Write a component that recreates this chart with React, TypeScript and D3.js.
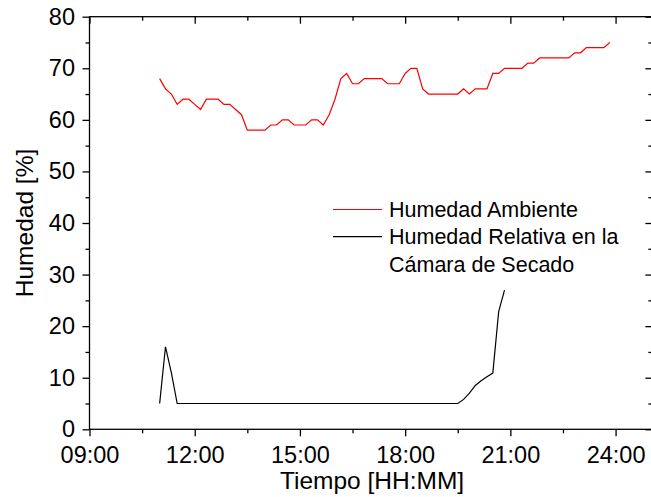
import React, { useEffect, useRef } from 'react';
import * as d3 from 'd3';

// readings every 10 min starting at 11:00
const startTime = '11:00';
const stepMinutes = 10;

const ambiente = [
  68, 66, 65, 63, 64, 64, 63, 62, 64, 64, 64, 63, 63, 62, 61, 58, 58, 58, 58, 59,
  59, 60, 60, 59, 59, 59, 60, 60, 59, 61, 64, 68, 69, 67, 67, 68, 68, 68, 68, 67,
  67, 67, 69, 70, 70, 66, 65, 65, 65, 65, 65, 65, 66, 65, 66, 66, 66, 69, 69, 70,
  70, 70, 70, 71, 71, 72, 72, 72, 72, 72, 72, 73, 73, 74, 74, 74, 74, 75,
];

const camara = [
  5, 16, 11, 5, 5, 5, 5, 5, 5, 5, 5, 5, 5, 5, 5, 5, 5, 5, 5, 5,
  5, 5, 5, 5, 5, 5, 5, 5, 5, 5, 5, 5, 5, 5, 5, 5, 5, 5, 5, 5,
  5, 5, 5, 5, 5, 5, 5, 5, 5, 5, 5, 5, 5.8, 7, 8.5, 9.4, 10.2, 10.9, 22.8, 27,
];

const xTickLabels = ['09:00', '12:00', '15:00', '18:00', '21:00', '24:00'];
const yTicks = [0, 10, 20, 30, 40, 50, 60, 70, 80];
const legendLabels = ['Humedad Ambiente', 'Humedad Relativa en la', 'Cámara de Secado'];

const toHours = (s: string) => {
  const [h, m] = s.split(':').map(Number);
  return h + m / 60;
};

export default function App() {
  const ref = useRef<SVGSVGElement>(null);

  useEffect(() => {
    const svg = d3.select(ref.current);
    svg.selectAll('*').remove();

    const left = 89.5;
    const right = 652.4;
    const top = 16.7;
    const bottom = 429.3;
    const font = 'Liberation Sans, Arial, sans-serif';

    const x = d3.scaleLinear().domain([9, 25.05]).range([left, right]);
    const y = d3.scaleLinear().domain([0, 80]).range([bottom, top]);

    const t0 = toHours(startTime);
    const hour = (i: number) => t0 + (i * stepMinutes) / 60;

    const majorX = xTickLabels.map(toHours);
    const minorX = majorX.map((d) => d + 1.5).filter((d) => d < 25.05);
    const minorY = yTicks.slice(0, -1).map((d) => d + 5);

    const styleAxis = (g: any) => {
      g.select('.domain').remove();
      g.selectAll('line').attr('stroke', '#000').attr('stroke-width', 1.3);
      g.selectAll('text')
        .attr('fill', '#000')
        .style('font-family', font)
        .style('font-size', '23.5px');
    };

    // frame
    svg
      .append('rect')
      .attr('x', left)
      .attr('y', top)
      .attr('width', right - left)
      .attr('height', bottom - top)
      .attr('fill', 'none')
      .attr('stroke', '#000')
      .attr('stroke-width', 1.3);

    // bottom axis
    svg
      .append('g')
      .attr('transform', `translate(0,${bottom})`)
      .call(
        d3
          .axisBottom(x)
          .tickValues(majorX)
          .tickFormat((d, i) => xTickLabels[i])
          .tickSize(7)
          .tickPadding(10.5),
      )
      .call(styleAxis);
    svg
      .append('g')
      .attr('transform', `translate(0,${bottom})`)
      .call(d3.axisBottom(x).tickValues(minorX).tickFormat(() => '').tickSize(4))
      .call(styleAxis);

    // top axis, ticks inward
    svg
      .append('g')
      .attr('transform', `translate(0,${top})`)
      .call(d3.axisBottom(x).tickValues(majorX).tickFormat(() => '').tickSize(7))
      .call(styleAxis);
    svg
      .append('g')
      .attr('transform', `translate(0,${top})`)
      .call(d3.axisBottom(x).tickValues(minorX).tickFormat(() => '').tickSize(4))
      .call(styleAxis);

    // left axis
    svg
      .append('g')
      .attr('transform', `translate(${left},0)`)
      .call(d3.axisLeft(y).tickValues(yTicks).tickSize(7).tickPadding(7.5))
      .call(styleAxis);
    svg
      .append('g')
      .attr('transform', `translate(${left},0)`)
      .call(d3.axisLeft(y).tickValues(minorY).tickFormat(() => '').tickSize(4))
      .call(styleAxis);

    // right axis, ticks inward
    svg
      .append('g')
      .attr('transform', `translate(${right},0)`)
      .call(d3.axisLeft(y).tickValues(yTicks).tickFormat(() => '').tickSize(7))
      .call(styleAxis);
    svg
      .append('g')
      .attr('transform', `translate(${right},0)`)
      .call(d3.axisLeft(y).tickValues(minorY).tickFormat(() => '').tickSize(4))
      .call(styleAxis);

    const line = d3
      .line<number>()
      .x((d, i) => x(hour(i)))
      .y((d) => y(d));

    svg
      .append('path')
      .datum(ambiente)
      .attr('d', line)
      .attr('fill', 'none')
      .attr('stroke', '#ff0000')
      .attr('stroke-width', 1.2);

    svg
      .append('path')
      .datum(camara)
      .attr('d', line)
      .attr('fill', 'none')
      .attr('stroke', '#000')
      .attr('stroke-width', 1.2);

    // legend
    const lg = svg.append('g').style('font-family', font).style('font-size', '21.5px');
    lg.append('line')
      .attr('x1', 333).attr('x2', 382).attr('y1', 209.5).attr('y2', 209.5)
      .attr('stroke', '#ff0000').attr('stroke-width', 1.2);
    lg.append('line')
      .attr('x1', 333).attr('x2', 382).attr('y1', 236.7).attr('y2', 236.7)
      .attr('stroke', '#000').attr('stroke-width', 1.2);
    legendLabels.forEach((t, i) => {
      lg.append('text').attr('x', 389).attr('y', 217 + i * 27.3).text(t);
    });

    // axis titles
    svg
      .append('text')
      .attr('x', 372)
      .attr('y', 489)
      .attr('text-anchor', 'middle')
      .style('font-family', font)
      .style('font-size', '24.5px')
      .text('Tiempo [HH:MM]');
    svg
      .append('text')
      .attr('transform', `translate(33,${(top + bottom) / 2}) rotate(-90)`)
      .attr('text-anchor', 'middle')
      .style('font-family', font)
      .style('font-size', '24.5px')
      .text('Humedad [%]');
  }, []);

  return (
    <svg
      ref={ref}
      width={651}
      height={497}
      style={{ position: 'absolute', left: 0, top: 0, background: '#fff' }}
    />
  );
}
